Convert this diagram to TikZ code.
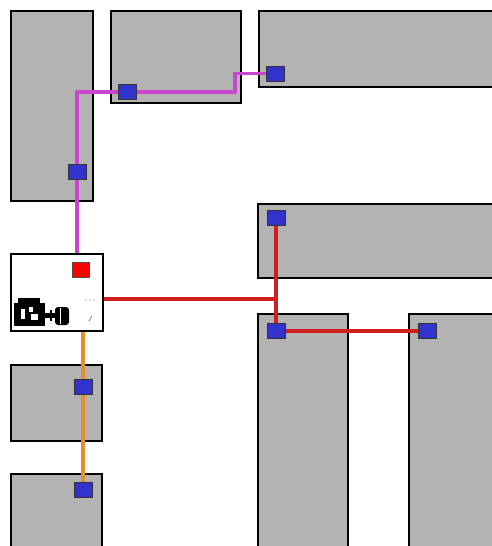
\documentclass[tikz,border=0pt]{standalone}
\usepackage{tikz}
\definecolor{wall}{RGB}{179,179,179}
\definecolor{unitblue}{RGB}{50,50,205}
\definecolor{pinkw}{RGB}{200,70,205}
\definecolor{redw}{RGB}{210,30,30}
\definecolor{orangew}{RGB}{230,140,40}
\pgfdeclarelayer{rooms}
\pgfdeclarelayer{wires}
\pgfsetlayers{rooms,wires,main}
\tikzset{room/.style = {draw=black, fill=wall, line width=1.2pt},
         unit/.style = {rectangle, draw=black!80, fill=unitblue, line width=0.7pt, minimum width=18pt, minimum height=15pt, inner sep=0pt},
         mach/.style = {rectangle, draw=black, fill=white, line width=1.2pt, minimum width=92pt, minimum height=77pt, inner sep=0pt},
         wire/.style = {line width=3.2pt}}

\begin{document}
\begin{tikzpicture}[x=1pt, y=-1pt]
    \useasboundingbox (0,0) rectangle (492,546);
    % rooms
    \begin{pgfonlayer}{rooms}
    \fill[white] (0,0) rectangle (492,546);
    \draw[room] (11,11) rectangle (93,201);
    \draw[room] (111,11) rectangle (241,103);
    \draw[room] (259,11) rectangle (500,87);
    \draw[room] (258,204) rectangle (500,278);
    \draw[room] (258,314) rectangle (348,560);
    \draw[room] (409,314) rectangle (500,560);
    \draw[room] (11,365) rectangle (102,441);
    \draw[room] (11,474) rectangle (102,560);
    \end{pgfonlayer}
    % control cabinet
    \node[mach] (m) at (57,292.5) {};
    \fill[red] (72,262) rectangle (89,277);
    \draw[black!70] (72,262) rectangle (89,277);
    \fill[black] (14,303) rectangle (45,326);
    \fill[black] (18,298) rectangle (40,304);
    \fill[white] (21,309) rectangle (25,319);
    \fill[white] (29,307) rectangle (33,312);
    \fill[white] (31,314) rectangle (38,320);
    \fill[black] (45,313) rectangle (56,318);
    \fill[black] (50,310) rectangle (52,321);
    \fill[black, rounded corners=3pt] (55,307) rectangle (69,325);
    \fill[white] (60,308) rectangle (61,324);
    \foreach \xx in {86,90,94} \fill[black!60] (\xx,300) circle (0.6pt);
    \draw[black!60, line width=0.6pt] (89,321) -- (92,316);
    % units
    \node[unit] (u1) at (127,92) {};
    \node[unit] (u2) at (275,73.5) {};
    \node[unit] (u3) at (77,171.5) {};
    \node[unit] (u4) at (276,218) {};
    \node[unit] (u5) at (276,331) {};
    \node[unit] (u6) at (427,331) {};
    \node[unit] (u7) at (83,386.5) {};
    \node[unit] (u8) at (83,490) {};
    \coordinate (k1) at (235,92);
    \coordinate (k2) at (77,92);
    \coordinate (k3) at (276,299);
    % wiring
    \begin{pgfonlayer}{wires}
    \draw[wire, pinkw] (m.north -| u3) -- (k2) -- (u1.center) -- (k1) |- (u2.center);
    \draw[wire, redw] (m.east |- k3) -- (k3);
    \draw[wire, redw] (u4.center) -- (u5.center) -- (u6.center);
    \draw[wire, orangew] (m.south -| u8) -- (u8.center);
    \end{pgfonlayer}
\end{tikzpicture}
\end{document}
